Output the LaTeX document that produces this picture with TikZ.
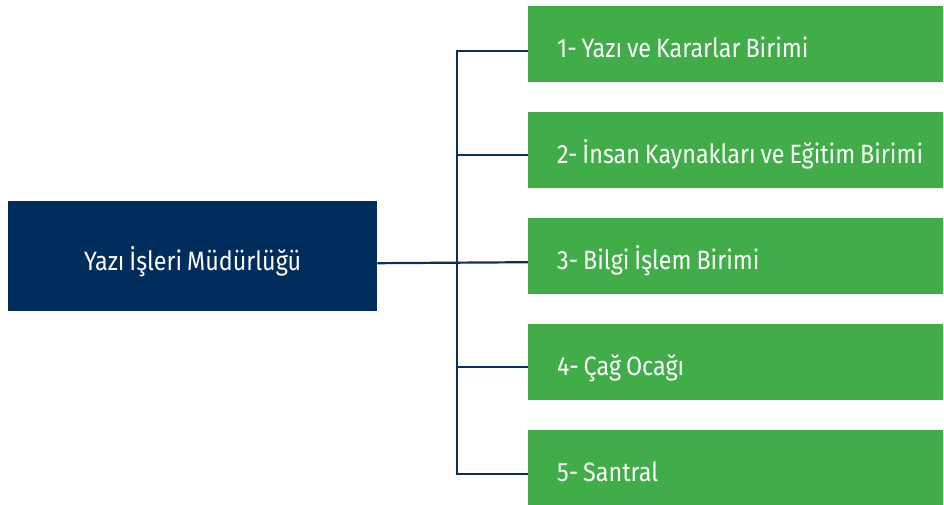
\documentclass[tikz,border=0pt]{standalone}
\usepackage{fontspec}
\setmainfont{Fira Sans}[FakeStretch=0.88, WordSpace=0.8]
\definecolor{navy}{HTML}{002D5C}
\definecolor{boxgreen}{HTML}{41AD49}
\definecolor{linenavy}{HTML}{0B2E5E}
\tikzset{
  mainbox/.style={fill=navy, text=white, minimum width=369pt, minimum height=110pt, inner sep=0pt, text height=28pt, text depth=0pt, anchor=north west, font=\fontsize{26.5}{30}\selectfont},
  unitbox/.style={fill=boxgreen, text=white, minimum height=76pt, text width=415pt, inner xsep=0pt, inner ysep=0pt, text height=26pt, text depth=0pt, align=flush left, anchor=north west, execute at begin node={\hspace*{29pt}}, font=\fontsize{26.5}{30}\selectfont},
  conn/.style={draw=linenavy, line width=2.2pt}
}
\begin{document}
\begin{tikzpicture}[x=1pt,y=-1pt]
\useasboundingbox (0,0) rectangle (944,505);
\node[mainbox] (main) at (8,201) {Yazı İşleri Müdürlüğü};
\node[unitbox] (b1) at (528,6) {1- Yazı ve Kararlar Birimi};
\node[unitbox] (b2) at (528,112) {2- İnsan Kaynakları ve Eğitim Birimi};
\node[unitbox] (b3) at (528,218) {3- Bilgi İşlem Birimi};
\node[unitbox] (b4) at (528,324) {4- Çağ Ocağı};
\node[unitbox] (b5) at (528,430) {5- Santral};
\draw[conn] ([yshift=-7pt]b1.west) -- ++(-71,0) |- ([yshift=-6pt]b5.west);
\draw[conn] ([yshift=-5pt]b2.west) -- ++(-71,0);
\draw[conn] ([yshift=-7pt]main.east) -- ([yshift=-6pt]b3.west);
\draw[conn] ([yshift=-5pt]b4.west) -- ++(-71,0);
\end{tikzpicture}
\end{document}
